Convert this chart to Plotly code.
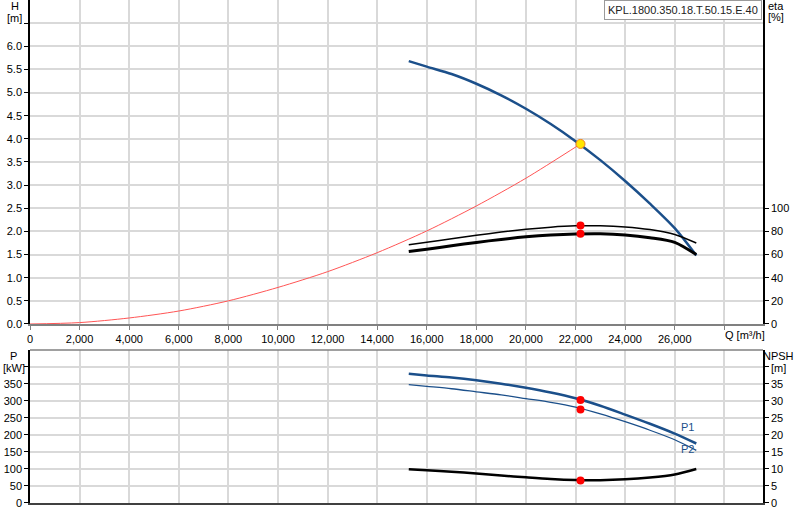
import plotly.graph_objects as go

# caudal comun para las curvas de la bomba
q_pump = [15275, 16000, 17000, 18000, 19000, 20000, 21000, 22000, 23000, 24000, 25000, 26000, 26870]

# curva de la bomba H(Q)
h_vals = [5.68, 5.56, 5.40, 5.19, 4.94, 4.65, 4.32, 3.95, 3.54, 3.09, 2.60, 2.07, 1.48]

# eficiencias
eta1 = [68.4, 70.6, 73.6, 76.6, 79.5, 81.9, 83.7, 84.8, 84.9, 83.9, 81.6, 77.4, 70.0]
eta2 = [62.6, 64.6, 67.6, 70.5, 73.1, 75.3, 76.9, 77.8, 78.0, 77.0, 74.6, 70.6, 60.0]

# potencia y NPSH
p1 = [380, 375, 369, 361, 351, 339, 325, 308, 286, 260, 233, 204, 175]
p2 = [348, 343, 336, 327, 318, 307, 296, 282, 262, 239, 214, 186, 155]
npsh = [9.9, 9.6, 9.2, 8.7, 8.1, 7.55, 7.05, 6.75, 6.7, 6.95, 7.5, 8.4, 10.0]

# curva del sistema
q_sys = [0, 2000, 4000, 6000, 8000, 10000, 12000, 14000, 16000, 18000, 20000, 22200]
h_sys = [0.0, 0.03, 0.13, 0.28, 0.50, 0.79, 1.13, 1.54, 2.01, 2.55, 3.15, 3.89]

# punto de operacion
q_op = 22200
h_op = 3.89
eta_op = [85.1, 78.0]
p_op = [303, 275]
npsh_op = 6.6

x_ticks = list(range(0, 28001, 2000))
x_labels = ["{:,}".format(v) for v in x_ticks[:-1]] + [""]
h_ticks = [i * 0.5 for i in range(14)]
h_labels = ["%.1f" % v for v in h_ticks[:-1]] + [""]
eta_ticks = [0, 20, 40, 60, 80, 100]
p_ticks = list(range(0, 401, 50))
p_labels = [str(v) for v in p_ticks[:-1]] + [""]
npsh_ticks = list(range(0, 41, 5))
npsh_labels = [str(v) for v in npsh_ticks[:-1]] + [""]

blue = "#1b4f8a"
grid = "#d9d9d9"


def curve(color, width):
    return dict(color=color, width=width, shape="spline", smoothing=0.8)


fig = go.Figure()

fig.add_trace(go.Scatter(x=q_sys, y=h_sys, mode="lines", line=curve("#ff5555", 1), xaxis="x", yaxis="y"))
fig.add_trace(go.Scatter(x=q_pump, y=h_vals, mode="lines", line=curve(blue, 2.5), xaxis="x", yaxis="y"))
fig.add_trace(go.Scatter(x=q_pump, y=eta1, mode="lines", line=curve("black", 1.5), xaxis="x", yaxis="y2"))
fig.add_trace(go.Scatter(x=q_pump, y=eta2, mode="lines", line=curve("black", 3), xaxis="x", yaxis="y2"))
fig.add_trace(go.Scatter(x=[q_op, q_op], y=eta_op, mode="markers", marker=dict(color="red", size=8),
                         xaxis="x", yaxis="y2"))
fig.add_trace(go.Scatter(x=[q_op], y=[h_op], mode="markers",
                         marker=dict(color="#ffe600", size=9, line=dict(color="#f08020", width=1)),
                         xaxis="x", yaxis="y"))

fig.add_trace(go.Scatter(x=q_pump, y=p1, mode="lines", line=curve(blue, 2.5), xaxis="x2", yaxis="y3"))
fig.add_trace(go.Scatter(x=q_pump, y=p2, mode="lines", line=curve(blue, 1.3), xaxis="x2", yaxis="y3"))
fig.add_trace(go.Scatter(x=[q_op, q_op], y=p_op, mode="markers", marker=dict(color="red", size=8),
                         xaxis="x2", yaxis="y3"))
fig.add_trace(go.Scatter(x=q_pump, y=npsh, mode="lines", line=curve("black", 2.5), xaxis="x2", yaxis="y4"))
fig.add_trace(go.Scatter(x=[q_op], y=[npsh_op], mode="markers", marker=dict(color="red", size=8),
                         xaxis="x2", yaxis="y4"))

font = dict(family="Liberation Sans, Arial", size=11, color="black")
tick_common = dict(ticks="outside", ticklen=4, tickfont=font, zeroline=False, fixedrange=True,
                   automargin=False)

fig.update_layout(
    width=800, height=520,
    margin=dict(l=30, r=37, t=0, b=17, autoexpand=False),
    plot_bgcolor="white", paper_bgcolor="white",
    showlegend=False,
    font=font,
    xaxis=dict(domain=[0, 1], anchor="y", range=[0, 29560], tickvals=x_ticks, ticktext=x_labels,
               showgrid=True, gridcolor=grid, gridwidth=1.5, showline=True, linecolor="#808080", linewidth=2,
               tickcolor="#808080", **tick_common),
    yaxis=dict(domain=[0.3559, 1], anchor="x", range=[0, 7], tickvals=h_ticks, ticktext=h_labels,
               showgrid=True, gridcolor=grid, gridwidth=1.5, showline=True, linecolor="black", linewidth=1.5,
               tickcolor="black", **tick_common),
    yaxis2=dict(overlaying="y", side="right", anchor="x", range=[0, 280], tickvals=eta_ticks,
                showgrid=False, showline=True, linecolor="black", linewidth=1.5, tickcolor="black", **tick_common),
    xaxis2=dict(domain=[0, 1], anchor="y3", range=[0, 29560], tickvals=x_ticks, showticklabels=False,
                showgrid=True, gridcolor=grid, gridwidth=1.5, showline=True, linecolor="#404040", linewidth=2,
                ticks="", zeroline=False, fixedrange=True, automargin=False),
    yaxis3=dict(domain=[0, 0.3042], anchor="x2", range=[0, 450], tickvals=p_ticks, ticktext=p_labels,
                showgrid=True, gridcolor=grid, gridwidth=1.5, showline=True, linecolor="black", linewidth=1.5,
                tickcolor="black", **tick_common),
    yaxis4=dict(overlaying="y3", side="right", anchor="x2", range=[0, 45], tickvals=npsh_ticks,
                ticktext=npsh_labels, showgrid=False, showline=True, linecolor="black", linewidth=1.5,
                tickcolor="black", **tick_common),
)

# borde superior del panel inferior
fig.add_shape(type="line", xref="x2 domain", yref="y3 domain", x0=0, x1=1, y0=1, y1=1,
              line=dict(color="#808080", width=1.5))


def px(xp, yp):
    # posicion en pixeles de la imagen -> coordenadas paper
    return (xp - 30) / 733, (503 - yp) / 503


# titulos de ejes
for text, xp, yp in [("H", 15, 6), ("[m]", 15, 18), ("eta", 776, 6), ("[%]", 776, 17),
                     ("P", 13, 356), ("[kW]", 14, 368), ("NPSH", 779, 356), ("[m]", 779, 368),
                     ("Q [m³/h]", 745, 335)]:
    x, y = px(xp, yp)
    fig.add_annotation(text=text, xref="paper", yref="paper", x=x, y=y, xanchor="center", yanchor="middle",
                       showarrow=False, font=font)

for text, xp, yp in [("P1", 696, 435), ("P2", 696, 457)]:
    x, y = px(xp, yp)
    fig.add_annotation(text=text, xref="paper", yref="paper", x=x, y=y, showarrow=False,
                       font=dict(family="Liberation Sans, Arial", size=11, color=blue))

# cuadro con el modelo
fig.add_annotation(text="KPL.1800.350.18.T.50.15.E.40", xref="paper", yref="paper", x=0.9986, y=1.0,
                   xanchor="right", yanchor="top", showarrow=False, bgcolor="white",
                   bordercolor="#9a9a9a", borderwidth=1, borderpad=3,
                   font=dict(family="Liberation Sans, Arial", size=11, color="#222"))

# quitar el margen del body para que la figura quede en (0, 0)
fig.write_html("out.html", config={"displayModeBar": False},
               post_script="document.body.style.margin = '0';")
